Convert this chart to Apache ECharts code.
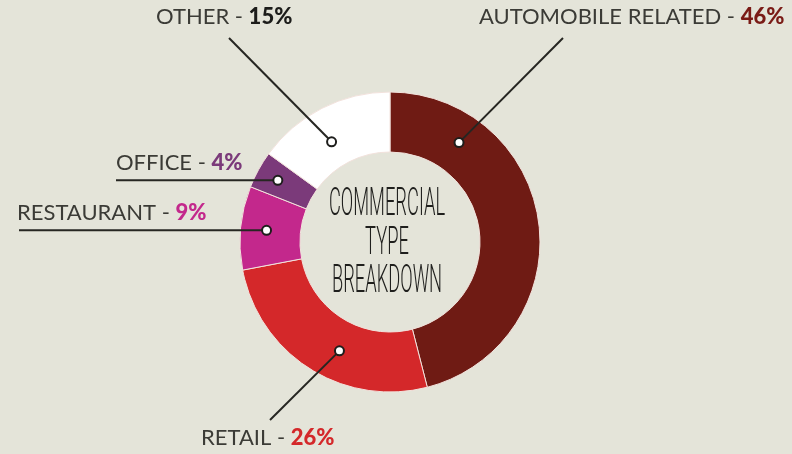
<!DOCTYPE html>
<html>
<head>
<meta charset="utf-8">
<script src="https://cdn.jsdelivr.net/npm/echarts@6/dist/echarts.min.js"></script>
<style>
  html, body { margin: 0; padding: 0; background: #e4e4d9; }
  #chart { width: 792px; height: 454px; }
</style>
</head>
<body>
<div id="chart"></div>
<script>
// Commercial type breakdown (share of total, %)
const categories = ['AUTOMOBILE RELATED', 'RETAIL', 'RESTAURANT', 'OFFICE', 'OTHER'];
const shares = [46, 26, 9, 4, 15];
const sliceColors = ['#6f1b14', '#d4282a', '#c3288c', '#7b3a7a', '#ffffff'];
const percentColors = ['#7a1b16', '#d4282a', '#c3288c', '#7b3a7a', '#1c1c1a'];

// Ring geometry (px)
const CX = 390, CY = 242, R_IN = 90, R_OUT = 150;

// Where each leader starts inside its slice (fraction along the arc, radius)
const anchorFrac = [0.21, 0.42, 0.5, 0.5, 0.44];
const anchorR = [121, 120, 124, 128, 116];

// Label placement: text anchor and far end of the leader line
const labelPlace = [
  { x: 479, y: 17, end: [563, 38] },
  { x: 201, y: 438, end: [270, 420] },
  { x: 17, y: 213, end: [19, null] },
  { x: 116, y: 163, end: [116, null] },
  { x: 156, y: 17, end: [229, 38] }
];

const total = shares.reduce((a, b) => a + b, 0);

function anchorPoint(i) {
  let before = 0;
  for (let k = 0; k < i; k++) before += shares[k];
  const a0 = 90 - before / total * 360;
  const span = shares[i] / total * 360;
  const ang = (a0 - span * anchorFrac[i]) * Math.PI / 180;
  return [CX + anchorR[i] * Math.cos(ang), CY - anchorR[i] * Math.sin(ang)];
}

const anchors = categories.map((_, i) => anchorPoint(i));
const leaderEnds = anchors.map((a, i) => {
  const e = labelPlace[i].end;
  return [e[0], e[1] === null ? a[1] : e[1]];
});

const rich = {
  n: { fontFamily: 'Lato', fontSize: 22, color: '#3b3b36' }
};
percentColors.forEach((c, i) => {
  rich['p' + i] = { fontFamily: 'Lato', fontSize: 22, fontWeight: 900, color: c };
});

const chart = echarts.init(document.getElementById('chart'), null, { renderer: 'canvas' });

chart.setOption({
  backgroundColor: '#e4e4d9',
  animation: false,
  series: [{
    type: 'pie',
    center: [CX, CY],
    radius: [R_IN, R_OUT],
    startAngle: 90,
    clockwise: true,
    avoidLabelOverlap: false,
    silent: true,
    itemStyle: { borderColor: '#f2e2dc', borderWidth: 1 },
    label: {
      show: true,
      position: 'outside',
      formatter: p => '{n|' + p.name + ' - }{p' + p.dataIndex + '|' + p.value + '%}',
      rich: rich
    },
    labelLine: { show: false },
    labelLayout: params => {
      const pl = labelPlace[params.dataIndex];
      return { x: pl.x, y: pl.y, align: 'left', verticalAlign: 'middle' };
    },
    data: categories.map((name, i) => ({
      name: name,
      value: shares[i],
      itemStyle: { color: sliceColors[i] }
    }))
  }],
  graphic: [
    ...anchors.map((a, i) => ({
      type: 'polyline',
      z: 90,
      shape: { points: [a, leaderEnds[i]] },
      style: { stroke: '#262622', lineWidth: 2, fill: null }
    })),
    ...anchors.map(a => ({
      type: 'circle',
      z: 100,
      shape: { cx: a[0], cy: a[1], r: 4.5 },
      style: { fill: '#ffffff', stroke: '#1e1e1c', lineWidth: 2 }
    })),
    {
      type: 'text',
      z: 100,
      x: CX - 3,
      y: CY + 2,
      scaleX: 0.47,
      style: {
        text: 'COMMERCIAL\nTYPE\nBREAKDOWN',
        fontFamily: 'Roboto',
        fontWeight: 300,
        fontSize: 39,
        lineHeight: 38.5,
        fill: '#1f1f1d',
        align: 'center',
        verticalAlign: 'middle'
      }
    }
  ]
});
</script>
</body>
</html>
